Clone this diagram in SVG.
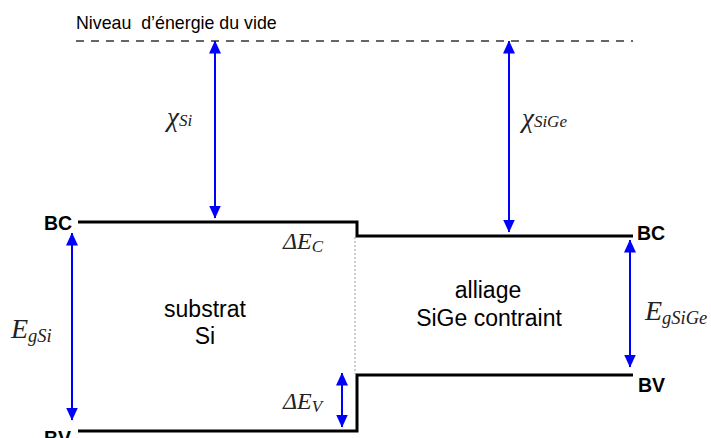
<svg xmlns="http://www.w3.org/2000/svg" width="711" height="438" viewBox="0 0 711 438">
<style>
.sans{font-family:"Liberation Sans",Arial,sans-serif;fill:#000}
.lbl{font-size:23px}
.bold{font-size:19.5px;font-weight:bold}
.math{font-family:"Liberation Serif","Times New Roman",serif;font-style:italic;fill:#222}
.band{stroke:#000;stroke-width:3;fill:none}
.arr{stroke:#0000ff;stroke-width:2;fill:none;marker-start:url(#ah);marker-end:url(#ah)}
</style>
<defs>
<marker id="ah" viewBox="0 0 13 12" refX="12.5" refY="6" markerWidth="13" markerHeight="12" markerUnits="userSpaceOnUse" orient="auto-start-reverse">
<path d="M0,0 L13,6 L0,12 z" fill="#0000ff"/>
</marker>
</defs>
<rect width="711" height="438" fill="#fff"/>
<g id="vide">
<text class="sans" x="76" y="29" font-size="17.8">Niveau&#160; d’énergie du vide</text>
<line x1="76" y1="41" x2="633" y2="41" stroke="#666" stroke-width="2" stroke-dasharray="8,7"/>
</g>
<g id="bands">
<polyline class="band" points="78,222 357,222 357,236 633,236"/>
<polyline class="band" points="78,431 357,431 357,375 633,375"/>
<line x1="355" y1="237" x2="355" y2="374" stroke="#999" stroke-width="1" stroke-dasharray="2,2"/>
</g>
<g id="labels-bc-bv">
<text class="sans bold" x="44" y="230">BC</text>
<text class="sans bold" x="44" y="445">BV</text>
<text class="sans bold" x="637" y="240">BC</text>
<text class="sans bold" x="638" y="392">BV</text>
</g>
<g id="substrat">
<text class="sans lbl" x="205" y="317" text-anchor="middle">substrat</text>
<text class="sans lbl" x="205" y="344" text-anchor="middle">Si</text>
</g>
<g id="alliage">
<text class="sans lbl" x="488" y="298" text-anchor="middle">alliage</text>
<text class="sans lbl" x="489" y="326" text-anchor="middle">SiGe contraint</text>
</g>
<g id="connectors">
<line class="arr" x1="215" y1="41" x2="215" y2="218"/>
<line class="arr" x1="509" y1="41" x2="509" y2="232"/>
<line class="arr" x1="72" y1="233" x2="72" y2="420"/>
<line class="arr" x1="630" y1="240" x2="630" y2="367"/>
<line class="arr" x1="342" y1="373" x2="342" y2="427"/>
</g>
<g id="math-labels">
<text class="math" x="167" y="126" font-size="27">χ<tspan font-size="17">Si</tspan></text>
<text class="math" x="522" y="127" font-size="27">χ<tspan font-size="17">SiGe</tspan></text>
<text class="math" x="11" y="338" font-size="28">E<tspan font-size="18.5" dy="4">gSi</tspan></text>
<text class="math" x="645" y="320" font-size="28">E<tspan font-size="18.5" dy="4">gSiGe</tspan></text>
<text class="math" x="283" y="249" font-size="24">ΔE<tspan font-size="17" dy="3">C</tspan></text>
<text class="math" x="283" y="409" font-size="24">ΔE<tspan font-size="17" dy="3">V</tspan></text>
</g>
</svg>
